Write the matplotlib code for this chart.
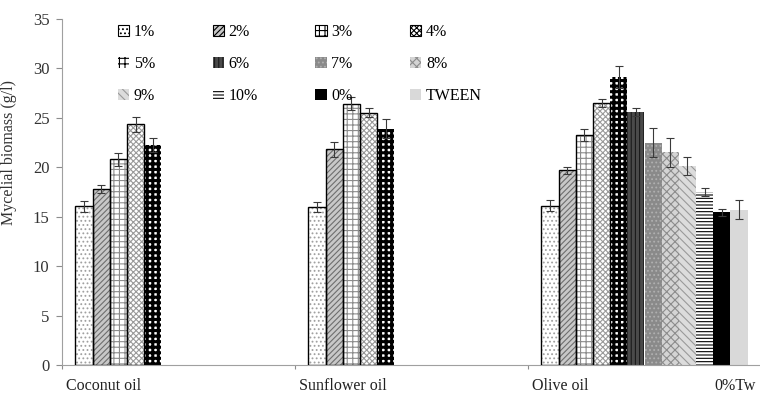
import matplotlib
matplotlib.use("Agg")
import matplotlib.pyplot as plt
from matplotlib.patches import Patch
import numpy as np

plt.rcParams['font.family'] = ['Liberation Serif', 'DejaVu Serif']
plt.rcParams['hatch.linewidth'] = 0.8

oils = ["Coconut oil", "Sunflower oil", "Olive oil"]
series = ["1%", "2%", "3%", "4%", "5%", "6%", "7%", "8%", "9%", "10%", "0%", "TWEEN"]

# biomass (g/l) per oil, one value per series (None = not tested)
coconut = [16.05, 17.8, 20.8, 24.35, 22.25, None, None, None, None, None, None, None]
sunflower = [15.95, 21.8, 26.45, 25.5, 23.9, None, None, None, None, None, None, None]
olive = [16.1, 19.7, 23.3, 26.5, 29.1, 25.6, 22.5, 21.5, 20.1, 17.5, 15.45, 15.7]

coconut_err = [0.55, 0.45, 0.65, 0.75, 0.75, None, None, None, None, None, None, None]
sunflower_err = [0.5, 0.75, 0.65, 0.45, 0.95, None, None, None, None, None, None, None]
olive_err = [0.55, 0.35, 0.6, 0.45, 1.1, 0.4, 1.5, 1.5, 0.9, 0.45, 0.35, 0.95]

values = [coconut, sunflower, olive]
errors = [coconut_err, sunflower_err, olive_err]

# (face, hatch, hatch colour, black outline, hatch line width)
styles = [
    ("white", "....", "#a0a0a0", True, 0.8),
    ("#c8c8c8", "//////", "#6e6e6e", True, 0.8),
    ("white", "+++", "#8c8c8c", True, 0.8),
    ("white", "xxxxxx", "#9a9a9a", True, 0.8),
    ("white", "+++", "black", False, 2.2),
    ("#4a4a4a", "||||", "#1a1a1a", False, 0.8),
    ("#8a8a8a", "....", "#b0b0b0", False, 0.8),
    ("#d4d4d4", "xxxx", "#8c8c8c", False, 0.8),
    ("#dcdcdc", "\\\\\\\\", "#9a9a9a", False, 0.8),
    ("white", "-----", "black", False, 0.8),
    ("black", None, "black", False, 0.8),
    ("#d9d9d9", None, "#d9d9d9", False, 0.8),
]

fig = plt.figure(figsize=(7.6, 3.94), dpi=100)
ax = fig.add_axes([62 / 760, 29 / 394, 699 / 760, 346 / 394])

n = len(series)
w = 0.0738
gap = (1 - n * w) / 2

for i, name in enumerate(series):
    face, hatch, hcol, outline, hlw = styles[i]
    for c in range(len(oils)):
        v = values[c][i]
        if v is None:
            continue
        x = c + gap + i * w
        with plt.rc_context({'hatch.linewidth': hlw}):
            ax.bar(x, v, width=w, align='edge', color=face, hatch=hatch,
                   edgecolor=hcol, linewidth=0, zorder=2)
        if outline:
            ax.bar(x, v, width=w, align='edge', fill=False,
                   edgecolor='black', linewidth=1.0, zorder=3)
        ax.errorbar(x + w / 2, v, yerr=errors[c][i], fmt='none',
                    ecolor='#3a3a3a', elinewidth=0.8, capsize=3,
                    capthick=0.8, zorder=4)

ax.set_xlim(0, 3)
ax.set_ylim(0, 35)
ax.set_yticks(np.arange(0, 36, 5))
ax.set_xticks([0, 1, 2])
ax.set_xticklabels([])
ax.tick_params(axis='y', colors='#8c8c8c', labelcolor='#333333',
               labelsize=12, length=4, width=0.8, pad=5)
ax.tick_params(axis='x', colors='#8c8c8c', length=3, width=0.8)
for s in ['top', 'right']:
    ax.spines[s].set_visible(False)
for s in ['left', 'bottom']:
    ax.spines[s].set_color('#a0a0a0')
    ax.spines[s].set_linewidth(0.8)

for c, name in enumerate(oils):
    ax.text(c + 0.017, -2.5, name, ha='left', va='baseline', fontsize=11.5,
            color='#222222')
ax.text(2.8, -2.5, "0%Tw", ha='left', va='baseline', fontsize=11.5,
        color='#222222', clip_on=False)

ax.set_ylabel("Mycelial biomass (g/l)", fontsize=11.5, color='#333333')
ax.yaxis.set_label_coords(-0.065, 0.613)

handles = []
for i, name in enumerate(series):
    face, hatch, hcol, outline, hlw = styles[i]
    with plt.rc_context({'hatch.linewidth': hlw}):
        handles.append(Patch(facecolor=face, hatch=hatch,
                             edgecolor='black' if outline else hcol,
                             linewidth=0.8 if outline else 0, label=name))
# legend fills column by column, reorder so it reads row by row
ncol, nrow = 4, 3
order = [r * ncol + c for c in range(ncol) for r in range(nrow)]
fig.legend(handles=[handles[k] for k in order], ncol=ncol, loc='upper left',
           bbox_to_anchor=(118 / 760, 1 - 24 / 394), frameon=False,
           fontsize=11.5, handlelength=0.7, handleheight=0.7,
           handletextpad=0.3, columnspacing=3.6, labelspacing=1.0,
           borderpad=0, borderaxespad=0)

fig.savefig("out.png", dpi=100)
